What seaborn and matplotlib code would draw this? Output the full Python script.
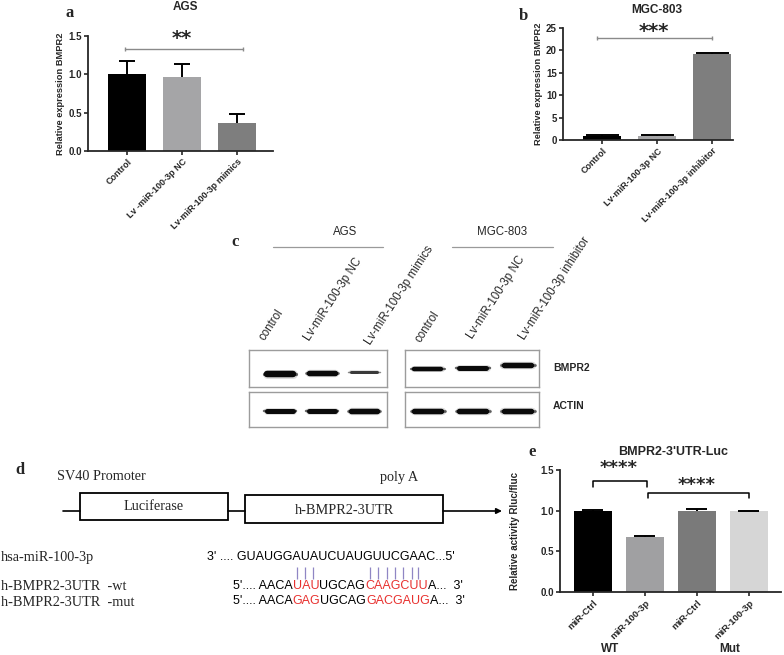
import numpy as np
import matplotlib
matplotlib.use("Agg")
import matplotlib.pyplot as plt
from matplotlib.patches import Rectangle
import matplotlib.transforms as mtransforms
import seaborn as sns

# ---- data ----
ags_groups = ["Control", "Lv -miR-100-3p NC", "Lv-miR-100-3p mimics"]
ags_mean = [1.00, 0.965, 0.365]
ags_err = [0.17, 0.17, 0.115]
ags_colors = ["#000000", "#a5a5a7", "#7e7e7e"]

mgc_groups = ["Control", "Lv-miR-100-3p NC", "Lv-miR-100-3p inhibitor"]
mgc_mean = [1.00, 1.00, 19.2]
mgc_err = [0.2, 0.1, 0.25]
mgc_colors = ["#000000", "#a5a5a7", "#7e7e7e"]

luc_groups = ["miR-Ctrl", "miR-100-3p", "miR-Ctrl ", "miR-100-3p "]
luc_ticks = ["miR-Ctrl", "miR-100-3p", "miR-Ctrl", "miR-100-3p"]
luc_mean = [1.00, 0.68, 1.00, 0.99]
luc_err = [0.008, 0.01, 0.02, 0.01]
luc_colors = ["#000000", "#a0a0a2", "#7a7a7a", "#d6d6d6"]
luc_sets = ["WT", "Mut"]
luc_set_x = [0.33, 2.63]

blot_lanes_ags = ["control", "Lv-miR-100-3p NC", "Lv-miR-100-3p mimics"]
blot_lanes_mgc = ["control", "Lv-miR-100-3p NC", "Lv-miR-100-3p inhibitor"]
bmpr2_ags = [6.5, 5.5, 3.0]      # band thickness (px)
bmpr2_mgc = [4.5, 5.0, 5.5]
actin_ags = [5.0, 5.0, 5.5]
actin_mgc = [5.5, 5.5, 5.5]
bmpr2_ags_y = [0.34, 0.37, 0.40]
bmpr2_mgc_y = [0.49, 0.52, 0.60]
actin_y = [0.45, 0.45, 0.45]
bmpr2_ags_shade = ["#0a0a0a", "#0a0a0a", "#3a3a3a"]

sns.set_style("ticks")
plt.rcParams["font.family"] = ["Liberation Sans", "DejaVu Sans"]

W, H = 784, 655
fig = plt.figure(figsize=(W / 100, H / 100), dpi=100)

ov = fig.add_axes([0, 0, 1, 1])
ov.set_xlim(0, W)
ov.set_ylim(H, 0)
ov.axis("off")


def px_axes(l, t, r, b):
    return fig.add_axes([l / W, 1 - b / H, (r - l) / W, (b - t) / H])


def bar_panel(ax, groups, means, errs, colors, ticks, width, cap, tsize=6.5):
    sns.barplot(x=groups, y=means, hue=groups, palette=colors, legend=False,
                width=width, ax=ax, saturation=1, linewidth=0)
    x = np.arange(len(groups))
    tops = np.array(means) + np.array(errs)
    ax.vlines(x, means, tops, color="black", lw=1.4, zorder=3)
    ax.hlines(tops, x - cap, x + cap, color="black", lw=1.4, zorder=3)
    sns.despine(ax=ax)
    for s in ["left", "bottom"]:
        ax.spines[s].set_linewidth(1.3)
    ax.tick_params(width=1.2, length=3, labelsize=7, pad=1.5)
    ax.set_xticks(x)
    ax.set_xticklabels(ticks, rotation=45, ha="right", va="top",
                       rotation_mode="anchor", fontsize=tsize, fontweight="bold")
    ax.set_xlabel("")


def bold_yticks(ax):
    for lab in ax.get_yticklabels():
        lab.set_fontweight("bold")


def stars(ax, x, y, s, size=14):
    ax.text(x, y, s, ha="center", va="center", fontsize=size,
            fontweight="bold", family="DejaVu Sans")


# ---- panel a ----
ax_a = px_axes(88, 36, 273, 151)
bar_panel(ax_a, ags_groups, ags_mean, ags_err, ags_colors, ags_groups, 0.69, 0.15)
ax_a.set_xlim(-0.71, 2.65)
ax_a.set_ylim(0, 1.5)
ax_a.set_yticks([0, 0.5, 1.0, 1.5])
ax_a.set_yticklabels(["0.0", "0.5", "1.0", "1.5"])
bold_yticks(ax_a)
ax_a.set_ylabel("Relative expression BMPR2", fontsize=6.7, fontweight="bold")
ax_a.yaxis.set_label_coords(-0.125, 0.5)
ax_a.plot([-0.04, 2.1], [1.33, 1.33], color="#8a8a8a", lw=1, clip_on=False)
ax_a.vlines([-0.04, 2.1], 1.30, 1.36, color="#8a8a8a", lw=1, clip_on=False)
stars(ax_a, 1.0, 1.47, "**")

# ---- panel b ----
ax_b = px_axes(563, 28, 733, 140)
bar_panel(ax_b, mgc_groups, mgc_mean, mgc_err, mgc_colors, mgc_groups, 0.69, 0.3)
ax_b.set_xlim(-0.71, 2.38)
ax_b.set_ylim(0, 25)
ax_b.set_yticks([0, 5, 10, 15, 20, 25])
bold_yticks(ax_b)
ax_b.set_ylabel("Relative expression BMPR2", fontsize=6.7, fontweight="bold")
ax_b.yaxis.set_label_coords(-0.12, 0.5)
ax_b.plot([-0.09, 2.0], [22.8, 22.8], color="#8a8a8a", lw=1, clip_on=False)
ax_b.vlines([-0.09, 2.0], 22.3, 23.3, color="#8a8a8a", lw=1, clip_on=False)
stars(ax_b, 0.95, 24.3, "***")

# ---- panel e ----
ax_e = px_axes(560, 470, 781, 592)
bar_panel(ax_e, luc_groups, luc_mean, luc_err, luc_colors, luc_ticks, 0.73, 0.2,
          tsize=6.8)
ax_e.set_xlim(-0.63, 3.62)
ax_e.set_ylim(0, 1.5)
ax_e.set_yticks([0, 0.5, 1.0, 1.5])
ax_e.set_yticklabels(["0.0", "0.5", "1.0", "1.5"])
bold_yticks(ax_e)
ax_e.set_ylabel("Relative activity Rluc/fluc", fontsize=7, fontweight="bold")
ax_e.yaxis.set_label_coords(-0.18, 0.5)
ax_e.plot([0.0, 0.0, 1.05, 1.05], [1.295, 1.37, 1.37, 1.295], color="black",
          lw=1.1, clip_on=False)
ax_e.plot([1.07, 1.07, 3.0, 3.0], [1.155, 1.215, 1.215, 1.155], color="black",
          lw=1.1, clip_on=False)
stars(ax_e, 0.5, 1.52, "****", 13)
stars(ax_e, 2.0, 1.31, "****", 13)
tr = mtransforms.blended_transform_factory(ax_e.transData, ov.transData)
for xs, s in zip(luc_set_x, luc_sets):
    ax_e.text(xs, 649, s, transform=tr, ha="center", va="center", fontsize=8.5,
              fontweight="bold", clip_on=False)

# ---- titles & panel letters ----
serif = "Liberation Serif"
ov.text(185, 7, "AGS", ha="center", va="center", fontsize=8.5, fontweight="bold")
ov.text(657, 10, "MGC-803", ha="center", va="center", fontsize=8.5, fontweight="bold")
ov.text(673, 452, "BMPR2-3'UTR-Luc", ha="center", va="center", fontsize=9,
        fontweight="bold")
for x, y, s in [(70, 13, "a"), (523, 16, "b"), (235, 242, "c"), (20, 470, "d"),
                (532, 452, "e")]:
    ov.text(x, y, s, ha="center", va="center", fontsize=12, fontweight="bold",
            family=serif)

# ---- panel c: western blot ----
ov.text(345, 232, "AGS", ha="center", va="center", fontsize=8.3)
ov.text(502, 232, "MGC-803", ha="center", va="center", fontsize=8.3)
ov.plot([273, 383], [247, 247], color="#9a9a9a", lw=0.9)
ov.plot([452, 553], [247, 247], color="#9a9a9a", lw=0.9)
for (x, y), s in zip([(267, 343), (312, 343), (373, 347)], blot_lanes_ags):
    ov.text(x, y, s, rotation=57, rotation_mode="anchor", ha="left", va="bottom",
            fontsize=8.3)
for (x, y), s in zip([(423, 345), (475, 341), (527, 342)], blot_lanes_mgc):
    ov.text(x, y, s, rotation=57, rotation_mode="anchor", ha="left", va="bottom",
            fontsize=8.3)
ov.text(553, 368, "BMPR2", ha="left", va="center", fontsize=7.5, fontweight="bold")
ov.text(553, 406, "ACTIN", ha="left", va="center", fontsize=7.5, fontweight="bold")


def blot(ax, thick, ys, xlim, shades=None):
    ax.set_xlim(*xlim)
    ax.set_ylim(0, 1)
    ax.set_xticks([])
    ax.set_yticks([])
    ax.set_facecolor("white")
    for s in ax.spines.values():
        s.set_visible(True)
        s.set_color("#9c9c9c")
        s.set_linewidth(1.0)
    for i, (t, y) in enumerate(zip(thick, ys)):
        c = shades[i] if shades else "#0a0a0a"
        lw = t / 1.39
        ax.plot([i - 0.38, i + 0.38], [y, y], color=c, lw=lw * 0.5,
                solid_capstyle="round", alpha=0.6)
        ax.plot([i - 0.3, i + 0.3], [y, y], color=c, lw=lw,
                solid_capstyle="round")
        ax.plot([i - 0.32, i + 0.32], [y, y], color=c, lw=lw * 1.35,
                solid_capstyle="round", alpha=0.15)


blot(px_axes(249, 350, 387, 387), bmpr2_ags, bmpr2_ags_y, (-0.74, 2.55),
     bmpr2_ags_shade)
blot(px_axes(249, 392, 387, 427), actin_ags, actin_y, (-0.74, 2.55))
blot(px_axes(405, 350, 539, 387), bmpr2_mgc, bmpr2_mgc_y, (-0.51, 2.47))
blot(px_axes(405, 392, 539, 427), actin_mgc, actin_y, (-0.51, 2.47))

# ---- panel d: construct diagram ----
ov.text(57, 477, "SV40 Promoter", ha="left", va="center", fontsize=10.3, family=serif)
ov.text(380, 477, "poly A", ha="left", va="center", fontsize=10.3, family=serif)
ov.plot([63, 80], [511, 511], color="black", lw=1.2)
ov.plot([228, 245], [511, 511], color="black", lw=1.2)
ov.annotate("", xy=(502, 511), xytext=(443, 511),
            arrowprops=dict(arrowstyle="-|>", color="black", lw=1.2,
                            mutation_scale=8, shrinkA=0, shrinkB=0))
ov.add_patch(Rectangle((80, 493), 148, 27, fill=False, lw=1.3, ec="black"))
ov.add_patch(Rectangle((245, 495), 198, 28, fill=False, lw=1.3, ec="black"))
ov.text(154, 507, "Luciferase", ha="center", va="center", fontsize=10.3,
        family=serif)
ov.text(344, 510, "h-BMPR2-3UTR", ha="center", va="center", fontsize=10.3,
        family=serif)

ov.text(1, 558, "hsa-miR-100-3p", ha="left", va="center", fontsize=10.3,
        family=serif)
ov.text(1, 587, "h-BMPR2-3UTR  -wt", ha="left", va="center", fontsize=10.3,
        family=serif)
ov.text(1, 603, "h-BMPR2-3UTR  -mut", ha="left", va="center", fontsize=10.3,
        family=serif)

RED = "#e8312f"


def seq_line(x, y, parts, size=9):
    t = ov.text(x, y, parts[0][0], color=parts[0][1], ha="left", va="center",
                fontsize=size)
    for s, c in parts[1:]:
        t = ov.annotate(s, xy=(1, 0), xycoords=t, ha="left", va="bottom",
                        color=c, fontsize=size)


seq_line(207, 557, [("3' .... GUAUGGAUAUCUAUGUUCGAAC...5'", "black")])
seq_line(233, 586, [("5'.... AACA", "black"), ("UAU", RED), ("UGCAG", "black"),
                    ("CAAGCUU", RED), ("A...  3'", "black")])
seq_line(233, 601, [("5'.... AACA", "black"), ("GAG", RED), ("UGCAG", "black"),
                    ("GACGAUG", RED), ("A...  3'", "black")])
pair_x = [297, 305, 313, 370, 378, 387, 395, 403, 412, 418]
ov.vlines(pair_x, 567, 579, color="#8f86c4", lw=0.9)

fig.savefig("out.png", dpi=100)
